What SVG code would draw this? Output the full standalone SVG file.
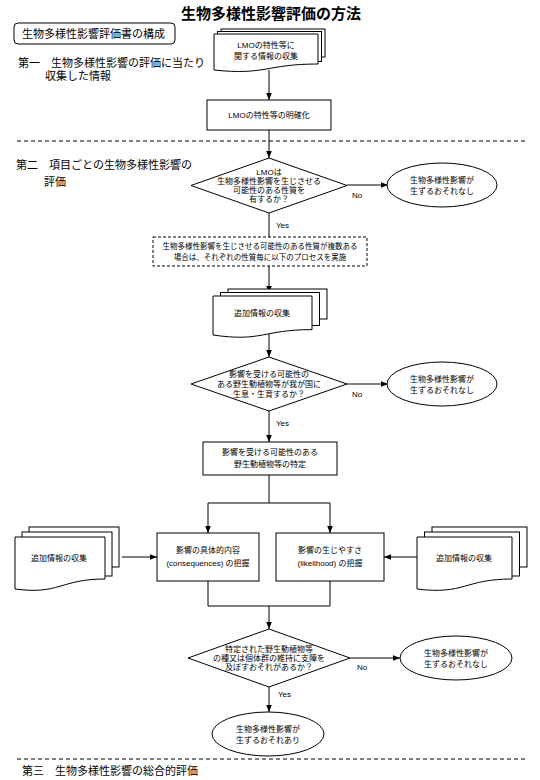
<svg xmlns="http://www.w3.org/2000/svg" width="540" height="780" viewBox="0 0 540 780">
<style>
text{font-family:"Liberation Sans","Noto Sans CJK JP",sans-serif;fill:#000}
.t{font-size:15px;font-weight:bold;text-anchor:middle}
.h{font-size:11px}
.s{font-size:8px;text-anchor:middle}
.d{font-size:7.5px;text-anchor:middle}
.l{font-size:8px}
.sh{fill:#fff;stroke:#000;stroke-width:1}
.sep{stroke:#000;stroke-width:1;stroke-dasharray:4 3;fill:none}
.c{stroke:#000;stroke-width:1;fill:none}
</style>
<defs>
<marker id="ah" viewBox="0 0 10 10" refX="10" refY="5" markerWidth="7" markerHeight="7" orient="auto" markerUnits="userSpaceOnUse">
<path d="M0,1 L10,5 L0,9 Z" fill="#000"/>
</marker>
</defs>
<rect width="540" height="780" fill="#fff"/>

<text class="t" x="271" y="19">生物多様性影響評価の方法</text>

<g id="legend">
<rect class="sh" x="14" y="23" width="161" height="21" rx="4"/>
<text class="h" x="22" y="38">生物多様性影響評価書の構成</text>
</g>
<g id="sec1">
<text class="h" x="18" y="67">第一　生物多様性影響の評価に当たり</text>
<text class="h" x="45" y="80">収集した情報</text>
</g>
<g id="sec2">
<text class="h" x="16" y="169">第二　項目ごとの生物多様性影響の</text>
<text class="h" x="44" y="186">評価</text>
</g>
<g id="sec3">
<text class="h" x="22" y="775">第三　生物多様性影響の総合的評価</text>
</g>

<line class="sep" x1="17" y1="141" x2="528" y2="141"/>
<line class="sep" x1="17" y1="759" x2="528" y2="759"/>

<g id="connectors">
<line class="c" x1="269" y1="70" x2="269" y2="100" marker-end="url(#ah)"/>
<line class="c" x1="269" y1="130" x2="269" y2="158" marker-end="url(#ah)"/>
<line class="c" x1="347" y1="185" x2="388" y2="185" marker-end="url(#ah)"/>
<line class="c" x1="269" y1="213" x2="269" y2="237"/>
<line class="c" x1="269" y1="266" x2="269" y2="293" marker-end="url(#ah)"/>
<line class="c" x1="269" y1="334" x2="269" y2="357" marker-end="url(#ah)"/>
<line class="c" x1="347" y1="384" x2="388" y2="384" marker-end="url(#ah)"/>
<line class="c" x1="269" y1="411" x2="269" y2="442" marker-end="url(#ah)"/>
<polyline class="c" points="269,475 269,503 208,503 208,533" marker-end="url(#ah)"/>
<polyline class="c" points="269,503 330,503 330,533" marker-end="url(#ah)"/>
<line class="c" x1="122" y1="557" x2="157" y2="557" marker-end="url(#ah)"/>
<line class="c" x1="417" y1="557" x2="384" y2="557" marker-end="url(#ah)"/>
<polyline class="c" points="208,581 208,606 330,606 330,581"/>
<line class="c" x1="269" y1="606" x2="269" y2="629" marker-end="url(#ah)"/>
<line class="c" x1="350" y1="658" x2="400" y2="658" marker-end="url(#ah)"/>
<line class="c" x1="269" y1="687" x2="269" y2="712" marker-end="url(#ah)"/>
<text class="l" x="352" y="198">No</text>
<text class="l" x="276" y="228">Yes</text>
<text class="l" x="352" y="397">No</text>
<text class="l" x="276" y="426">Yes</text>
<text class="l" x="357" y="670">No</text>
<text class="l" x="278" y="697">Yes</text>
</g>

<g id="doc1">
<rect class="sh" x="221" y="29" width="104" height="28"/>
<rect class="sh" x="217.5" y="31.5" width="104" height="30"/>
<path class="sh" d="M214,34 H318 V64 C266,64 266,75.5 214,70 Z"/>
<text class="s" x="266" y="48">LMOの特性等に</text>
<text class="s" x="266" y="59">関する情報の収集</text>
</g>

<g id="clarify">
<rect class="sh" x="207" y="100" width="124" height="30"/>
<text class="s" x="269" y="118">LMOの特性等の明確化</text>
</g>

<g id="q1">
<polygon class="sh" points="269,158 347,185.5 269,213 191,185.5"/>
<text class="s" x="269" y="175">LMOは</text>
<text class="s" x="269" y="184">生物多様性影響を生じさせる</text>
<text class="s" x="269" y="193">可能性のある性質を</text>
<text class="s" x="269" y="202">有するか？</text>
</g>

<g id="none1">
<ellipse class="sh" cx="442" cy="185" rx="55" ry="22"/>
<text class="s" x="442" y="183">生物多様性影響が</text>
<text class="s" x="442" y="194">生ずるおそれなし</text>
</g>

<g id="multi">
<rect class="c" x="153" y="237" width="214" height="29" stroke-dasharray="3 2"/>
<text class="d" x="260" y="249">生物多様性影響を生じさせる可能性のある性質が複数ある</text>
<text class="d" x="260" y="260">場合は、それぞれの性質毎に以下のプロセスを実施</text>
</g>

<g id="doc2">
<rect class="sh" x="228" y="289" width="99" height="30"/>
<rect class="sh" x="220.5" y="292.5" width="99" height="33"/>
<path class="sh" d="M213,296 H312 V329.6 C262.5,329.6 262.5,342.2 213,335 Z"/>
<text class="s" x="262" y="316">追加情報の収集</text>
</g>

<g id="q2">
<polygon class="sh" points="269,357 347,384 269,411 191,384"/>
<text class="s" x="269" y="377">影響を受ける可能性の</text>
<text class="s" x="269" y="387">ある野生動植物等が我が国に</text>
<text class="s" x="269" y="397">生息・生育するか？</text>
</g>

<g id="none2">
<ellipse class="sh" cx="442" cy="384" rx="55" ry="22"/>
<text class="s" x="442" y="382">生物多様性影響が</text>
<text class="s" x="442" y="393">生ずるおそれなし</text>
</g>

<g id="identify">
<rect class="sh" x="203" y="442" width="134" height="33"/>
<text class="s" x="270" y="455">影響を受ける可能性のある</text>
<text class="s" x="270" y="467">野生動植物等の特定</text>
</g>

<g id="doc3">
<rect class="sh" x="29" y="527" width="90" height="40"/>
<rect class="sh" x="22" y="532" width="90" height="44"/>
<path class="sh" d="M15,537 H105 V579 C60,579 60,595 15,589 Z"/>
<text class="s" x="59" y="561">追加情報の収集</text>
</g>

<g id="consequences">
<rect class="sh" x="157" y="533" width="102" height="48"/>
<text class="s" x="208" y="553">影響の具体的内容</text>
<text class="s" x="208" y="566">(consequences) の把握</text>
</g>

<g id="likelihood">
<rect class="sh" x="276" y="533" width="108" height="48"/>
<text class="s" x="330" y="553">影響の生じやすさ</text>
<text class="s" x="330" y="566">(likelihood) の把握</text>
</g>

<g id="doc4">
<rect class="sh" x="432" y="527" width="95" height="40"/>
<rect class="sh" x="424.5" y="532" width="95" height="44"/>
<path class="sh" d="M417,537 H512 V579 C464.5,579 464.5,595 417,589 Z"/>
<text class="s" x="464" y="561">追加情報の収集</text>
</g>

<g id="q3">
<polygon class="sh" points="269,629 350,658 269,687 188,658"/>
<text class="s" x="269" y="652">特定された野生動植物等</text>
<text class="s" x="269" y="661">の種又は個体群の維持に支障を</text>
<text class="s" x="269" y="670">及ぼすおそれがあるか？</text>
</g>

<g id="none3">
<ellipse class="sh" cx="456" cy="658" rx="56" ry="22"/>
<text class="s" x="456" y="656">生物多様性影響が</text>
<text class="s" x="456" y="667">生ずるおそれなし</text>
</g>

<g id="risk">
<ellipse class="sh" cx="268" cy="734" rx="56" ry="22"/>
<text class="s" x="268" y="732">生物多様性影響が</text>
<text class="s" x="268" y="743">生ずるおそれあり</text>
</g>
</svg>
